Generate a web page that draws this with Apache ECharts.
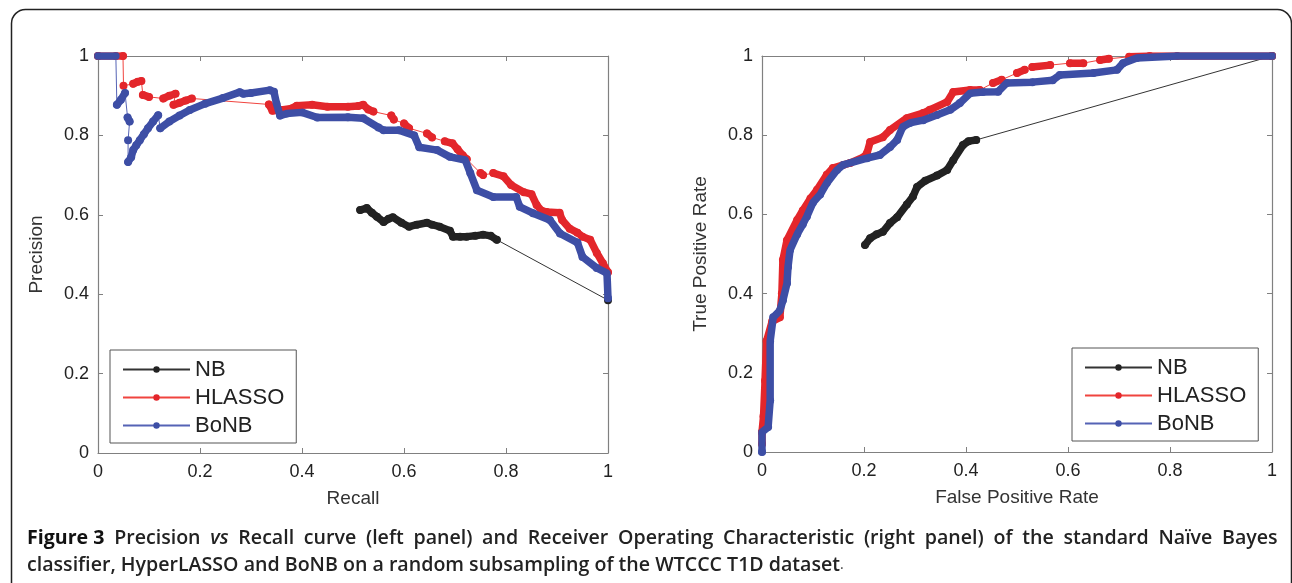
<!DOCTYPE html>
<html>
<head>
<meta charset="utf-8">
<script src="https://cdn.jsdelivr.net/npm/echarts@6/dist/echarts.min.js"></script>
<style>
html,body{margin:0;padding:0;background:#fff;}
#c{width:1292px;height:583px;}
</style>
</head>
<body>
<div id="c"></div>
<script>
// ---- data (null = gap between dense marker runs; thin line still connects) ----
var seriesNames = ['NB', 'HLASSO', 'BoNB'];

var prNB = [[0.514,0.612],[0.527,0.617],[0.537,0.605],[0.547,0.595],[0.56,0.582],[0.57,0.59],[0.578,0.594],
  [0.595,0.58],[0.61,0.57],[0.625,0.575],[0.645,0.58],[0.655,0.575],[0.67,0.57],[0.69,0.56],[0.696,0.545],
  [0.71,0.545],[0.723,0.545],[0.74,0.547],[0.755,0.55],[0.77,0.547],[0.782,0.537],null,[1,0.385]];

var prHLASSO = [[0,1],[0.049,1],null,[0.05,0.925],null,[0.069,0.93],[0.078,0.935],[0.085,0.937],null,[0.088,0.902],[0.10,0.897],null,
  [0.128,0.893],[0.14,0.9],[0.152,0.905],null,[0.148,0.877],[0.16,0.882],[0.172,0.888],[0.184,0.893],null,
  [0.335,0.878],[0.342,0.862],[0.36,0.864],[0.38,0.868],[0.39,0.875],[0.42,0.877],[0.45,0.872],[0.49,0.872],
  [0.51,0.874],[0.52,0.877],[0.53,0.865],[0.54,0.86],null,[0.575,0.85],[0.58,0.84],null,[0.6,0.83],[0.61,0.818],null,
  [0.645,0.805],[0.655,0.795],null,[0.68,0.785],[0.695,0.78],[0.705,0.765],[0.715,0.75],[0.723,0.74],null,
  [0.75,0.705],[0.755,0.7],null,[0.775,0.705],[0.795,0.697],[0.81,0.675],[0.835,0.657],[0.85,0.652],[0.86,0.625],
  [0.87,0.61],[0.88,0.607],[0.905,0.605],[0.91,0.587],[0.925,0.565],[0.94,0.555],[0.95,0.545],[0.965,0.537],
  [0.978,0.504],[0.99,0.478],[1,0.455]];

var prBoNB = [[0,1],[0.035,1],null,[0.037,0.877],[0.045,0.89],[0.053,0.907],null,[0.058,0.845],[0.062,0.835],null,
  [0.059,0.788],null,[0.059,0.733],[0.065,0.745],[0.069,0.763],[0.075,0.775],[0.082,0.788],[0.09,0.803],[0.098,0.818],
  [0.108,0.835],[0.118,0.851],null,[0.122,0.818],[0.14,0.835],[0.16,0.85],[0.18,0.864],[0.21,0.88],[0.245,0.894],
  [0.278,0.909],[0.285,0.905],[0.3,0.907],[0.337,0.914],[0.345,0.91],[0.35,0.88],[0.357,0.85],[0.37,0.855],
  [0.4,0.858],[0.43,0.845],[0.49,0.846],[0.52,0.843],[0.55,0.82],[0.56,0.813],[0.59,0.813],[0.62,0.80],[0.63,0.77],
  [0.665,0.763],[0.69,0.746],[0.72,0.738],[0.73,0.705],[0.743,0.662],[0.775,0.645],[0.82,0.645],[0.827,0.62],
  [0.853,0.604],[0.886,0.587],[0.906,0.553],[0.94,0.53],[0.95,0.494],[0.978,0.466],[0.998,0.453],[1,0.39]];

var rocNB = [[0.202,0.523],[0.212,0.54],[0.225,0.55],[0.237,0.556],[0.251,0.578],[0.265,0.593],[0.284,0.625],
  [0.296,0.645],[0.304,0.669],[0.32,0.685],[0.343,0.698],[0.363,0.712],[0.375,0.737],[0.394,0.775],[0.405,0.785],
  [0.42,0.788],null,[1,1]];

var rocHLASSO = [[0,0.02],[0,0.05],[0.003,0.09],[0.006,0.18],[0.009,0.28],[0.02,0.33],[0.035,0.34],[0.039,0.40],
  [0.041,0.485],[0.049,0.535],[0.069,0.586],[0.08,0.61],[0.095,0.64],[0.108,0.662],[0.127,0.70],[0.139,0.717],
  [0.173,0.73],[0.2,0.745],[0.206,0.755],[0.212,0.783],[0.237,0.795],[0.251,0.813],[0.284,0.843],[0.316,0.856],
  [0.329,0.864],[0.363,0.884],[0.375,0.909],[0.408,0.914],[0.427,0.914],null,[0.453,0.932],[0.47,0.94],null,
  [0.5,0.957],[0.515,0.965],null,[0.53,0.972],[0.565,0.977],null,[0.604,0.982],[0.63,0.982],null,[0.663,0.99],
  [0.68,0.993],null,[0.72,0.998],[0.76,1],[1,1]];

var rocBoNB = [[0,0],[0,0.05],[0.012,0.063],[0.016,0.13],[0.016,0.28],[0.022,0.34],[0.035,0.357],[0.041,0.383],
  [0.049,0.426],[0.051,0.467],[0.055,0.51],[0.069,0.55],[0.08,0.575],[0.088,0.595],[0.1,0.63],[0.114,0.65],
  [0.127,0.679],[0.147,0.712],[0.159,0.725],[0.206,0.742],[0.231,0.75],[0.251,0.77],[0.265,0.788],[0.276,0.821],
  [0.29,0.831],[0.316,0.838],[0.343,0.851],[0.369,0.864],[0.388,0.881],[0.408,0.906],[0.433,0.909],[0.463,0.91],
  [0.48,0.932],[0.53,0.934],[0.57,0.939],[0.584,0.952],[0.65,0.957],[0.696,0.965],[0.708,0.982],[0.735,0.995],
  [0.814,1],[1,1]];

var captionLine1 = ['Figure 3', 'Precision', '*vs', 'Recall', 'curve', '(left', 'panel)', 'and', 'Receiver', 'Operating',
  'Characteristic', '(right', 'panel)', 'of', 'the', 'standard', 'Naïve', 'Bayes'];
var captionLine2 = 'classifier, HyperLASSO and BoNB on a random subsampling of the WTCCC T1D dataset';

// ---- styling ----
var dotColor = {NB:'#222222', HLASSO:'#e3262b', BoNB:'#3d4ea5'};
var thinColor = {NB:'#333333', HLASSO:'#f0443f', BoNB:'#5563b5'};
var axisCol = '#808080';
var labelFont = 'Liberation Sans, Arial, sans-serif';
var capFont = 'Open Sans, DejaVu Sans, sans-serif';
var capSize = 19.6;

function toData(arr){ return arr.map(function(p){ return p === null ? ['-','-'] : p; }); }

function makeSeries(name, arr, axisIdx){
  return [
    { name: name, type:'line', xAxisIndex: axisIdx, yAxisIndex: axisIdx, data: toData(arr),
      connectNulls: true, symbol:'circle', symbolSize: 8, showSymbol: true,
      lineStyle:{width:1, color: thinColor[name]}, itemStyle:{color: dotColor[name], borderWidth:0},
      animation:false, silent:true, z: 2 },
    { name: name + '_band', type:'line', xAxisIndex: axisIdx, yAxisIndex: axisIdx, data: toData(arr),
      connectNulls: false, symbol:'none', showSymbol:false,
      lineStyle:{width:7.5, color: dotColor[name], cap:'round', join:'round'},
      animation:false, silent:true, z: 3 }
  ];
}

function tickFmt(v){ return String(+v.toFixed(1)); }
function mainX(gi, name){
  return { gridIndex: gi, type:'value', min:0, max:1, interval:0.2, position:'bottom',
    name: name, nameLocation:'middle', nameGap: 36,
    nameTextStyle:{fontSize:19, color:'#333', fontFamily: labelFont},
    axisLine:{show:true, onZero:false, lineStyle:{color:axisCol, width:1.2}},
    axisTick:{show:true, inside:true, length:5, lineStyle:{color:axisCol}},
    axisLabel:{fontSize:18, color:'#222', fontFamily: labelFont, margin:10, formatter: tickFmt},
    splitLine:{show:false} };
}
function boxX(gi){
  return { gridIndex: gi, type:'value', min:0, max:1, interval:0.2, position:'top',
    axisLine:{show:true, onZero:false, lineStyle:{color:axisCol, width:1.2}},
    axisTick:{show:true, inside:true, length:5, lineStyle:{color:axisCol}},
    axisLabel:{show:false}, splitLine:{show:false} };
}
function mainY(gi, name){
  return { gridIndex: gi, type:'value', min:0, max:1, interval:0.2, position:'left',
    name: name, nameLocation:'middle', nameGap: 52, nameRotate: 90,
    nameTextStyle:{fontSize:19, color:'#333', fontFamily: labelFont},
    axisLine:{show:true, onZero:false, lineStyle:{color:axisCol, width:1.2}},
    axisTick:{show:true, inside:true, length:5, lineStyle:{color:axisCol}},
    axisLabel:{fontSize:18, color:'#222', fontFamily: labelFont, margin:9, formatter: tickFmt},
    splitLine:{show:false} };
}
function boxY(gi){
  return { gridIndex: gi, type:'value', min:0, max:1, interval:0.2, position:'right',
    axisLine:{show:true, onZero:false, lineStyle:{color:axisCol, width:1.2}},
    axisTick:{show:true, inside:true, length:5, lineStyle:{color:axisCol}},
    axisLabel:{show:false}, splitLine:{show:false} };
}

function legendAt(left, top){
  return { show:true, orient:'vertical', left:left, top:top, data: seriesNames,
    itemWidth: 67, itemHeight: 8, itemGap: 5, itemTextGap: 10, padding:[8, 12, 6, 12],
    borderColor:'#555', borderWidth:1, backgroundColor:'#fff',
    textStyle:{fontSize:22, color:'#222', fontFamily: labelFont, lineHeight: 23},
    selectedMode:false };
}

var series = [].concat(
  makeSeries('NB', prNB, 0), makeSeries('HLASSO', prHLASSO, 0), makeSeries('BoNB', prBoNB, 0),
  makeSeries('NB', rocNB, 2), makeSeries('HLASSO', rocHLASSO, 2), makeSeries('BoNB', rocBoNB, 2));

// justified first caption line: words separated by fixed-width space tokens
var spaceW = 9.7;
var line1Text = captionLine1.map(function(w, i){
  var tok = i === 0 ? '{b|' + w + '}' : (w.charAt(0) === '*' ? '{i|' + w.slice(1) + '}' : '{n|' + w + '}');
  return (i === 0 ? '' : '{s| }') + tok;
}).join('');
var capRich = {
  b:{fontFamily:capFont, fontWeight:'bold', fontSize:capSize, fill:'#111'},
  n:{fontFamily:capFont, fontWeight:600, fontSize:capSize, fill:'#222'},
  i:{fontFamily:capFont, fontWeight:600, fontStyle:'italic', fontSize:capSize, fill:'#222'},
  s:{fontFamily:capFont, fontSize:capSize, width: spaceW},
  p:{fontFamily:capFont, fontWeight:'normal', fontSize:14, fill:'#444'}
};

var option = {
  backgroundColor:'#fff',
  animation:false,
  grid:[
    {left:98, top:56, width:510, height:397},
    {left:762, top:56, width:510, height:396}
  ],
  xAxis:[ mainX(0,'Recall'), boxX(0), mainX(1,'False Positive Rate'), boxX(1) ],
  yAxis:[ mainY(0,'Precision'), boxY(0), mainY(1,'True Positive Rate'), boxY(1) ],
  legend:[ legendAt(110, 350), legendAt(1072, 348) ],
  series: series,
  graphic:[
    { type:'rect', left:9, top:7, shape:{width:1280, height:590, r:14},
      style:{fill:'none', stroke:'#222', lineWidth:1.5}, silent:true, z:-1 },
    { type:'text', left:27, top:528, silent:true, style:{ text: line1Text, rich: capRich } },
    { type:'text', left:27, top:555, silent:true,
      style:{ text: '{n|' + captionLine2 + '}{p|.}', rich: capRich } }
  ]
};

var chart = echarts.init(document.getElementById('c'), null, {renderer:'canvas'});
chart.setOption(option);
</script>
</body>
</html>
